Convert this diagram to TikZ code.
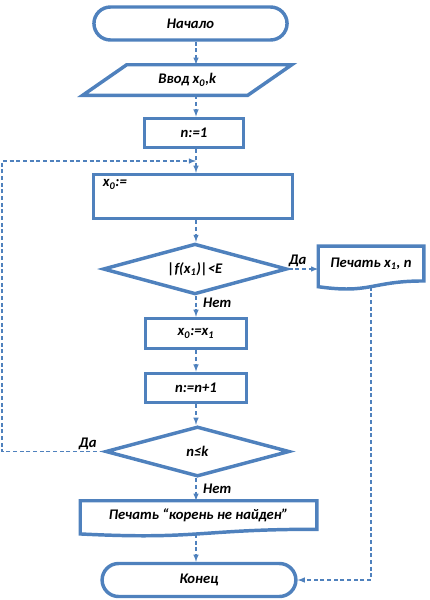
\documentclass[tikz,border=0pt]{standalone}
\usepackage{fontspec}
\setmainfont{Carlito}
\usetikzlibrary{shapes.geometric,shapes.misc,arrows}

\definecolor{flowblue}{RGB}{79,129,189}

\begin{document}
\begin{tikzpicture}[x=0.75pt,y=-0.75pt,
        every node/.style={font=\bfseries\itshape\fontsize{11}{13}\selectfont, text=black},
        blk/.style={draw=flowblue, line width=2.6pt},
        term/.style={blk, rounded rectangle, minimum width=151.5pt, minimum height=24.75pt},
        proc/.style={blk, rectangle, minimum width=75.75pt, minimum height=22pt},
        cond/.style={blk, diamond, aspect=3.5, minimum width=138pt, minimum height=38pt, inner sep=0pt},
        docbox/.style={rectangle, inner sep=1pt},
        link/.style={draw=flowblue, line width=0.85pt, dash pattern=on 3pt off 2pt, -latex},
        lbl/.style={inner sep=1pt}]
    \useasboundingbox (0,0) rectangle (429,600);

    % blocks
    \node[term] (start) at (190.5,23.5) {Начало};
    \node[docbox, minimum width=123.4pt, minimum height=22.5pt] (input) at (187.25,80) {Ввод x\textsubscript{0},k};
    \draw[blk] ([xshift=16.5pt]input.north west) -- ([xshift=16.5pt]input.north east)
        -- ([xshift=-16.5pt]input.south east) -- ([xshift=-16.5pt]input.south west) -- cycle;
    \node[proc, minimum width=74pt] (n1) at (194,133) {n:=1};
    \node[proc, minimum width=149pt, minimum height=33pt,
        label={[lbl, anchor=north west, xshift=7pt, yshift=-4pt]north west:x\textsubscript{0}:=}] (x0) at (193,196.5) {};
    \node[cond] (c1) at (195,269) {|f(x\textsubscript{1})|<E};
    \node[docbox, minimum width=78.75pt, minimum height=25.8pt] (p1) at (371,263.5) {Печать x\textsubscript{1}, n};
    \draw[blk] (p1.north west) -- (p1.north east) -- (p1.south east)
        .. controls +(-39.4pt,0pt) and +(39.4pt,-5.6pt) .. ([yshift=-4.3pt]p1.south west) -- cycle;
    \node[proc, minimum height=22.5pt] (x0x1) at (196,333.5) {x\textsubscript{0}:=x\textsubscript{1}};
    \node[proc] (ninc) at (196,388) {n:=n+1};
    \node[cond, minimum height=37.5pt] (c2) at (197.5,451.5) {n≤k};
    \node[docbox, minimum width=177pt, minimum height=21pt] (p2) at (198.5,515) {Печать “корень не найден”};
    \draw[blk] (p2.north west) -- (p2.north east) -- (p2.south east)
        .. controls +(-88.5pt,0pt) and +(88.5pt,-4.5pt) .. ([yshift=-3.5pt]p2.south west) -- cycle;
    \node[term, minimum width=152pt] (end) at (199,580) {Конец};

    % connectors
    \coordinate (col) at (196,0);
    \coordinate (loop) at (2,161);
    \draw[link] (start.south -| col) -- (input.north -| col);
    \draw[link] (input.south -| col) -- (n1.north -| col);
    \draw[link] (n1.south -| col) -- (x0.north -| col);
    \draw[link] (x0.south -| col) -- (c1.north -| col);
    \draw[link] (c1.south -| col) -- node[lbl, pos=0, anchor=north west, xshift=4pt] {Нет} (x0x1.north -| col);
    \draw[link] (c1.east) -- node[lbl, pos=0.3, anchor=south] {Да} (c1.east -| p1.west);
    \draw[link] ([yshift=-4.3pt]p1.south) |- (end.east);
    \draw[link] (x0x1.south -| col) -- (ninc.north -| col);
    \draw[link] (ninc.south -| col) -- (c2.north -| col);
    \draw[link] (c2.south -| col) -- node[lbl, pos=0, anchor=north west, xshift=4pt, yshift=-3pt] {Нет} (p2.north -| col);
    \draw[link] ([yshift=-3.5pt]p2.south -| col) -- (end.north -| col);
    \draw[link] (c2.west) -- node[lbl, pos=0, anchor=south east, xshift=-4pt] {Да} (c2.west -| loop) -- (loop) -- (loop -| col);
\end{tikzpicture}
\end{document}
